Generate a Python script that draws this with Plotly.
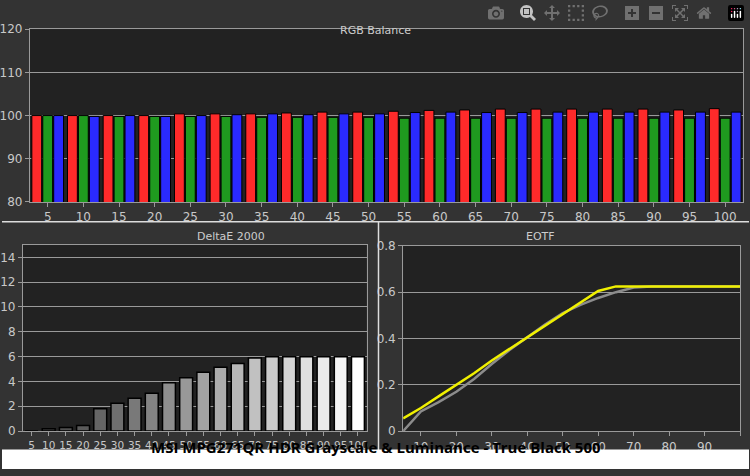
import plotly.graph_objects as go

levels = [5, 10, 15, 20, 25, 30, 35, 40, 45, 50, 55, 60, 65, 70, 75, 80, 85, 90, 95, 100]
red = [100.0, 100.0, 100.0, 100.0, 100.4, 100.4, 100.4, 100.6, 100.8, 100.8, 101.0, 101.2, 101.3, 101.5, 101.5, 101.5, 101.5, 101.5, 101.3, 101.6]
green = [100.0, 100.0, 99.8, 99.8, 99.8, 99.8, 99.6, 99.6, 99.6, 99.6, 99.4, 99.4, 99.4, 99.4, 99.4, 99.4, 99.4, 99.4, 99.4, 99.4]
blue = [100.0, 99.8, 100.0, 99.8, 100.0, 100.2, 100.4, 100.2, 100.4, 100.4, 100.7, 100.8, 100.7, 100.7, 100.8, 100.8, 100.8, 100.8, 100.8, 100.8]
deltae = [0.0, 0.2, 0.3, 0.45, 1.8, 2.25, 2.65, 3.05, 3.9, 4.3, 4.75, 5.15, 5.45, 5.9, 6.0, 6.0, 6.0, 6.0, 6.0, 6.0]
eotf_measured = [0.055, 0.1, 0.15, 0.2, 0.25, 0.305, 0.355, 0.405, 0.455, 0.505, 0.555, 0.605, 0.625, 0.625, 0.625, 0.625, 0.625, 0.625, 0.625, 0.625]
eotf_target = [0.0, 0.085, 0.125, 0.17, 0.225, 0.29, 0.35, 0.405, 0.46, 0.51, 0.545, 0.575, 0.6, 0.62, 0.625, 0.625, 0.625, 0.625, 0.625, 0.625]

bg = "#333333"
plot_bg = "#222222"
grid = "#9a9a9a"
tick_font = dict(family="DejaVu Sans", size=12, color="#c8c8c8")

fig = go.Figure()

# RGB balance
for vals, col in [(red, "#ff2a2a"), (green, "#1f9a1f"), (blue, "#2a2aff")]:
    fig.add_trace(go.Bar(x=levels, y=vals, marker=dict(color=col, line=dict(color="black", width=1)),
                         xaxis="x", yaxis="y", showlegend=False))

# DeltaE bars, shaded from dark to white
shades = ["rgb(%d,%d,%d)" % (v, v, v) for v in [int(60 + 195 * i / 19) for i in range(20)]]
fig.add_trace(go.Bar(x=[str(l) for l in levels], y=deltae,
                     marker=dict(color=shades, line=dict(color="black", width=1.5)),
                     width=0.75, xaxis="x2", yaxis="y2", showlegend=False))

# EOTF
fig.add_trace(go.Scatter(x=levels, y=eotf_target, mode="lines", line=dict(color="#8c8c8c", width=2.5),
                         xaxis="x3", yaxis="y3", showlegend=False))
fig.add_trace(go.Scatter(x=levels, y=eotf_measured, mode="lines", line=dict(color="#f0f000", width=2.5),
                         xaxis="x3", yaxis="y3", showlegend=False))

axis_common = dict(showline=True, linecolor=grid, mirror=True, gridcolor=grid, gridwidth=1,
                   ticks="outside", tickcolor=grid, ticklen=4, tickfont=tick_font, zeroline=False,
                   tickangle=0)

fig.update_layout(
    width=750, height=476, margin=dict(l=0, r=0, t=0, b=0),
    paper_bgcolor=bg, plot_bgcolor=plot_bg, barmode="group", bargap=0.08, bargroupgap=0.1,
    xaxis=dict(domain=[0.0373, 0.992], anchor="y", tickvals=levels, showgrid=False,
               range=[2.5, 102.5], **axis_common),
    yaxis=dict(domain=[0.578, 0.952], anchor="x", range=[80, 120], dtick=10, **axis_common),
    xaxis2=dict(domain=[0.028, 0.488], anchor="y2", type="category", showgrid=False,
                **{**axis_common, "tickfont": dict(family="DejaVu Sans", size=10.5, color="#c8c8c8")}),
    yaxis2=dict(domain=[0.082, 0.485], anchor="x2", range=[0, 15], tickvals=[0, 2, 4, 6, 8, 10, 12, 14],
                **axis_common),
    xaxis3=dict(domain=[0.537, 0.988], anchor="y3", range=[5, 100], tickvals=[10, 20, 30, 40, 50, 60, 70, 80, 90, 100],
                showgrid=False, **axis_common),
    yaxis3=dict(domain=[0.082, 0.483], anchor="x3", range=[0, 0.8], tickvals=[0, 0.2, 0.4, 0.6, 0.8],
                ticktext=["0", "0.2", "0.4", "0.6", "0.8"], **axis_common),
    shapes=[
        dict(type="line", xref="paper", yref="paper", x0=0, x1=1, y0=0.535, y1=0.535,
             line=dict(color="#dddddd", width=1.5)),
        dict(type="line", xref="paper", yref="paper", x0=0.504, x1=0.504, y0=0.04, y1=0.535,
             line=dict(color="#dddddd", width=1.5)),
        dict(type="rect", xref="paper", yref="paper", x0=0, x1=1, y0=0, y1=0.042,
             fillcolor="white", line=dict(width=0)),
    ],
    annotations=[
        dict(text="RGB Balance", x=0.5, y=0.968, xref="paper", yref="paper", showarrow=False,
             font=dict(family="DejaVu Sans", size=11, color="#cccccc")),
        dict(text="DeltaE 2000", x=0.258, y=0.503, xref="paper", yref="paper", showarrow=False,
             font=dict(family="DejaVu Sans", size=11, color="#cccccc")),
        dict(text="EOTF", x=0.743, y=0.503, xref="paper", yref="paper", showarrow=False,
             font=dict(family="DejaVu Sans", size=11, color="#cccccc")),
        dict(text="<b>MSI MPG271QR HDR Grayscale & Luminance - True Black 500</b>", x=0.5, y=0.021,
             xref="paper", yref="paper", showarrow=False,
             font=dict(family="Open Sans", size=15, color="black")),
    ],
)

fig.write_html("out.html", post_script="document.body.style.margin='0';document.body.style.overflow='hidden';")
